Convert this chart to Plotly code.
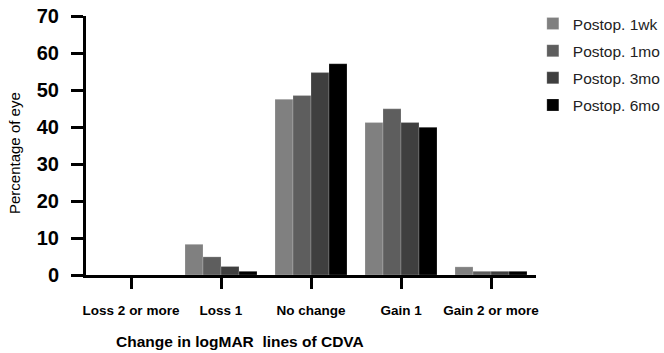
import plotly.graph_objects as go

categories = ["Loss 2 or more", "Loss 1", "No change", "Gain 1", "Gain 2 or more"]
series_names = ["Postop. 1wk", "Postop. 1mo", "Postop. 3mo", "Postop. 6mo"]
postop_1wk = [0, 8.3, 47.5, 41.2, 2.2]
postop_1mo = [0, 4.9, 48.5, 44.9, 1.0]
postop_3mo = [0, 2.3, 54.7, 41.2, 1.0]
postop_6mo = [0, 1.0, 57.1, 39.9, 1.0]
colors = ["#808080", "#5e5e5e", "#3f3f3f", "#000000"]
y_ticks = [0, 10, 20, 30, 40, 50, 60, 70]
x_title = "Change in logMAR  lines of CDVA"
y_title = "Percentage of eye"

FONT = "Liberation Sans, Arial, sans-serif"

fig = go.Figure()
for i, (name, vals) in enumerate(zip(series_names, [postop_1wk, postop_1mo, postop_3mo, postop_6mo])):
    fig.add_trace(go.Bar(
        x=list(range(len(categories))), y=vals, name=name,
        marker=dict(color=colors[i], line=dict(color="rgba(255,255,255,0.4)", width=0.5)),
        legendgroup=name,
    ))

fig.update_layout(
    width=664, height=353,
    margin=dict(l=86, r=128, t=16, b=78, autoexpand=False),
    paper_bgcolor="white", plot_bgcolor="white",
    barmode="group", bargap=0.2, bargroupgap=0,
    font=dict(family=FONT, color="black"),
    showlegend=True,
    legend=dict(x=0.993, xanchor="left", y=1.035, yanchor="top", xref="paper", yref="paper",
                font=dict(size=15.5, color="#222", family=FONT), itemwidth=30,
                tracegroupgap=4, bgcolor="rgba(0,0,0,0)"),
    xaxis=dict(
        range=[-0.5, 4.5], tickmode="array", tickvals=list(range(len(categories))),
        ticktext=["<b>%s</b>" % c for c in categories],
        tickfont=dict(size=13.5), ticks="outside", ticklen=11, tickwidth=3, tickcolor="black",
        ticklabelstandoff=10, automargin=False,
        showline=True, linewidth=3, linecolor="black", showgrid=False, zeroline=False,
    ),
    yaxis=dict(
        range=[0, 70], tickmode="array", tickvals=y_ticks,
        ticktext=["<b>%d</b>" % v for v in y_ticks],
        tickfont=dict(size=20, family=FONT), ticks="outside", ticklen=12, tickwidth=3, tickcolor="black",
        ticklabelstandoff=8, automargin=False,
        showline=True, linewidth=3, linecolor="black", showgrid=False, zeroline=False,
    ),
    annotations=[
        dict(text="<b>%s</b>" % x_title, xref="paper", yref="paper", x=0.342, y=-0.255,
             xanchor="center", yanchor="middle", showarrow=False,
             font=dict(size=15.5, family=FONT, color="black")),
        dict(text=y_title, xref="paper", yref="paper", x=-0.16, y=0.471, textangle=-90,
             xanchor="center", yanchor="middle", showarrow=False,
             font=dict(size=15, family=FONT, color="black")),
    ],
)

fig.write_html("out.html")
